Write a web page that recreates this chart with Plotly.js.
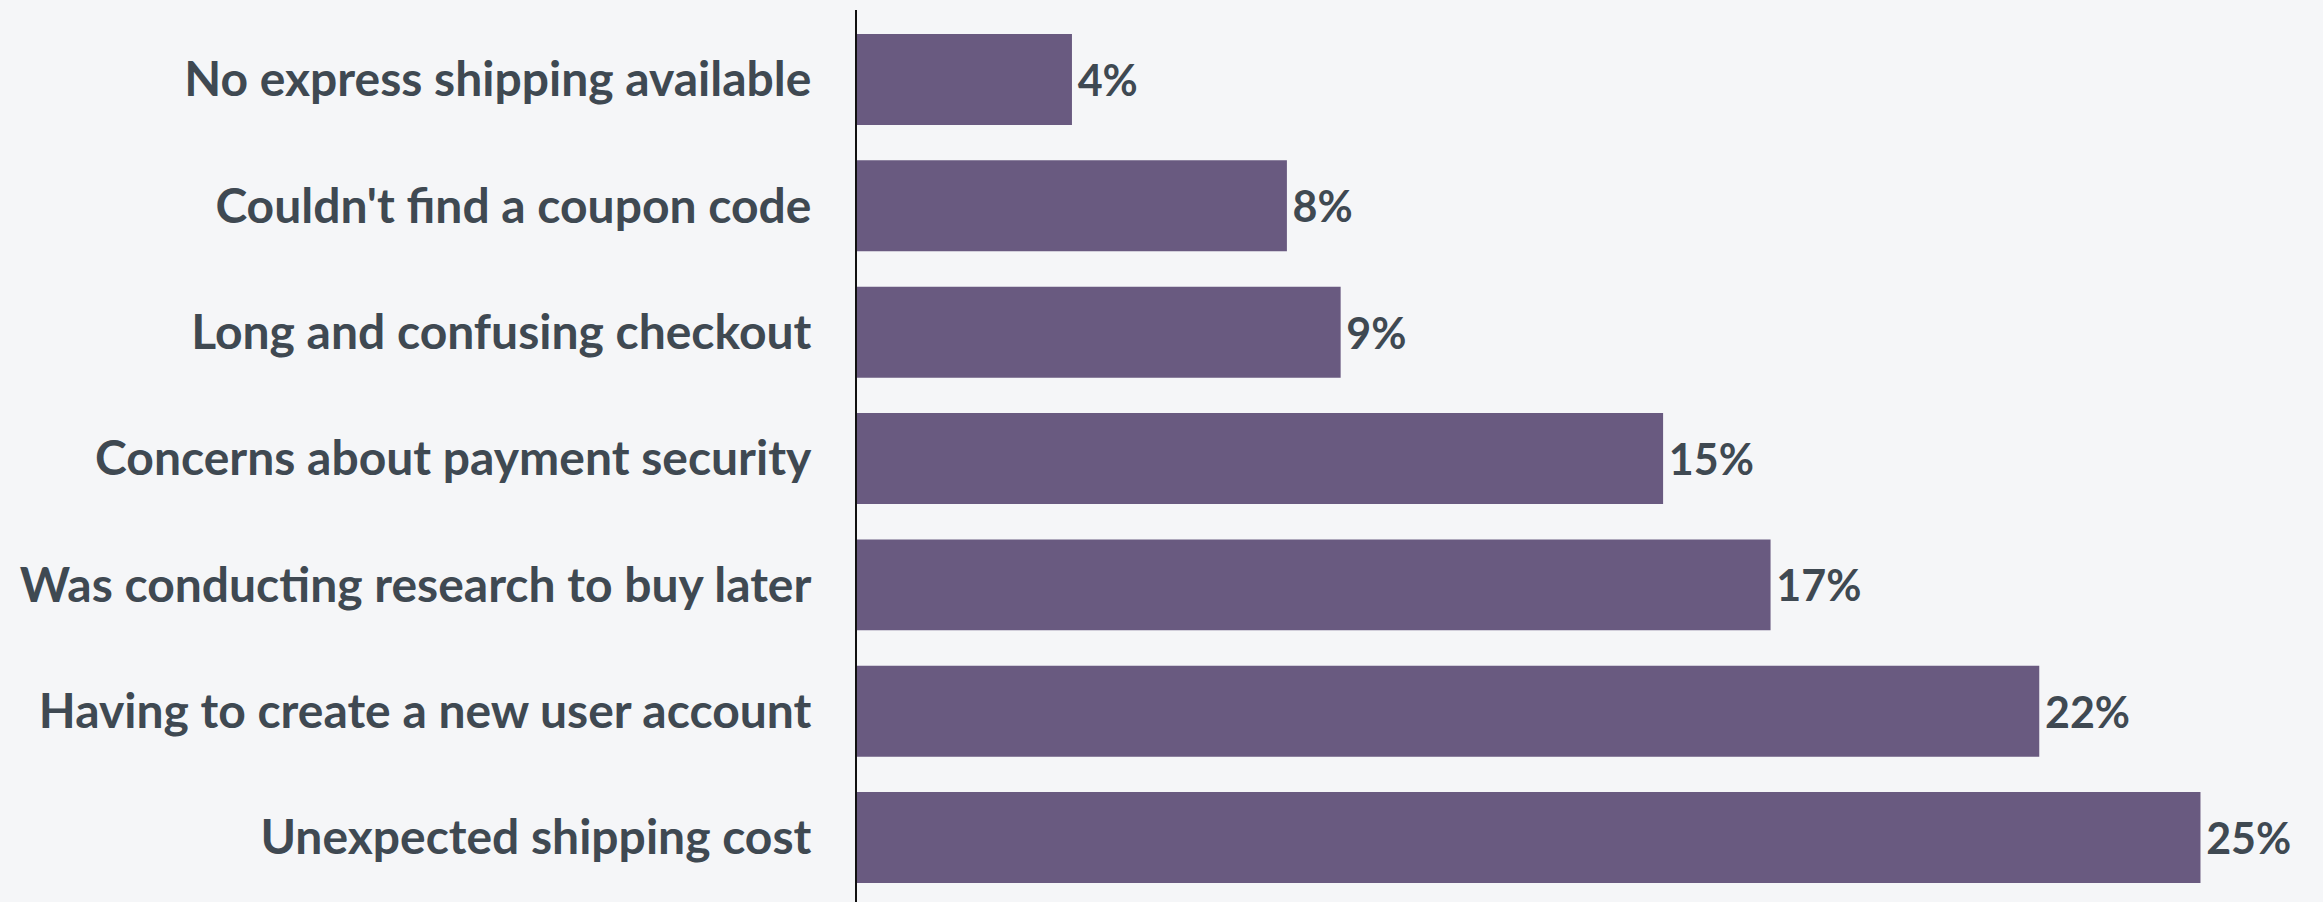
<!DOCTYPE html>
<html>
<head>
<meta charset="utf-8">
<script src="https://cdn.plot.ly/plotly-3.0.1.min.js"></script>
<style>html,body{margin:0;padding:0;background:#f5f6f8;}</style>
</head>
<body>
<div id="chart" style="width:2323px;height:902px;"></div>
<script>
// Data, listed bottom to top
const categories = [
  "Unexpected shipping cost",
  "Having to create a new user account",
  "Was conducting research to buy later",
  "Concerns about payment security",
  "Long and confusing checkout",
  "Couldn't find a coupon code",
  "No express shipping available"
];
const values = [25, 22, 17, 15, 9, 8, 4];

const textColor = "#3f4952";
const barColor = "#695a80";

const trace = {
  type: "bar",
  orientation: "h",
  y: categories,
  x: values,
  marker: {color: barColor},
  text: values.map(v => "\u200A" + v + "%"),
  textposition: "outside",
  cliponaxis: false,
  textfont: {family: "Lato", size: 43, color: textColor, weight: 700},
  hoverinfo: "none"
};

const layout = {
  width: 2323,
  height: 902,
  margin: {l: 857, r: 0, t: 10, b: 0, pad: 0},
  paper_bgcolor: "#f5f6f8",
  plot_bgcolor: "#f5f6f8",
  bargap: 0.28,
  showlegend: false,
  xaxis: {
    range: [0, 27.28],
    showgrid: false,
    zeroline: false,
    showline: false,
    showticklabels: false,
    ticks: ""
  },
  yaxis: {
    type: "category",
    range: [-0.51, 6.55],
    showgrid: false,
    zeroline: false,
    showline: true,
    linecolor: "#111111",
    linewidth: 2,
    ticks: "",
    ticklabelstandoff: 34,
    tickfont: {family: "Lato", size: 48, color: textColor, weight: 700}
  },
  font: {family: "Lato"}
};

Plotly.newPlot("chart", [trace], layout, {staticPlot: true, displayModeBar: false});
</script>
</body>
</html>
